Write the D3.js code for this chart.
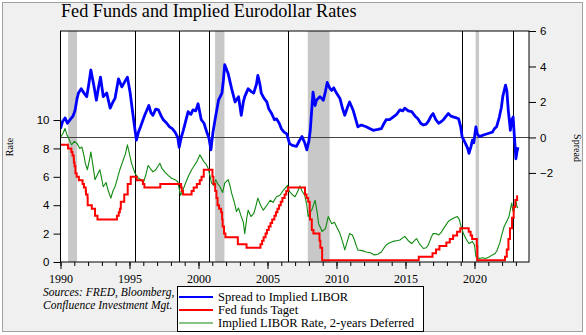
<!DOCTYPE html>
<html><head><meta charset="utf-8">
<script src="https://cdn.jsdelivr.net/npm/d3@7"></script>
<style>
html,body{margin:0;padding:0;background:#fff;}
svg{display:block;}
</style></head>
<body>
<svg id="chart" width="586" height="335"></svg>
<script>
// ---- data (decimal years) ----
const spreadYears = [1990.0,1990.15,1990.33,1990.5,1990.7,1990.9,1991.05,1991.2,1991.3,1991.5,1991.7,1991.9,1992.05,1992.2,1992.4,1992.6,1992.75,1992.9,1993.1,1993.35,1993.6,1993.8,1993.95,1994.2,1994.45,1994.7,1994.85,1995.05,1995.3,1995.5,1995.65,1995.8,1996.1,1996.4,1996.55,1996.7,1996.9,1997.1,1997.3,1997.45,1997.7,1997.9,1998.1,1998.3,1998.5,1998.6,1998.75,1998.9,1999.1,1999.25,1999.45,1999.6,1999.8,1999.97,2000.2,2000.4,2000.6,2000.75,2000.9,2001.05,2001.2,2001.45,2001.7,2001.8,2001.9,2002.05,2002.15,2002.4,2002.65,2002.9,2003.1,2003.25,2003.35,2003.6,2003.8,2004.0,2004.2,2004.3,2004.45,2004.55,2004.75,2004.95,2005.1,2005.3,2005.5,2005.65,2005.85,2006.0,2006.2,2006.4,2006.6,2006.8,2007.1,2007.3,2007.5,2007.7,2007.85,2008.0,2008.1,2008.2,2008.3,2008.45,2008.55,2008.8,2009.05,2009.2,2009.33,2009.5,2009.65,2009.8,2010.0,2010.25,2010.45,2010.6,2010.8,2010.95,2011.2,2011.4,2011.55,2011.8,2012.15,2012.4,2012.65,2013.0,2013.25,2013.45,2013.6,2013.85,2014.1,2014.35,2014.6,2014.8,2014.95,2015.2,2015.45,2015.7,2015.9,2016.1,2016.3,2016.5,2016.65,2016.85,2017.0,2017.2,2017.4,2017.6,2017.75,2017.95,2018.1,2018.3,2018.5,2018.7,2018.85,2019.0,2019.1,2019.35,2019.5,2019.6,2019.75,2019.85,2019.95,2020.1,2020.2,2020.35,2020.7,2021.1,2021.3,2021.45,2021.6,2021.8,2021.95,2022.05,2022.2,2022.25,2022.35,2022.45,2022.55,2022.6,2022.7,2022.8,2022.87,2022.95,2023.0,2023.08,2023.15];
const spreadValues = [0.5,0.9,1.1,0.8,1.0,1.2,1.5,2.2,2.5,2.75,2.5,2.3,3.0,3.8,3.0,2.1,2.8,3.4,2.3,2.5,1.65,2.0,2.2,3.3,2.85,3.2,3.4,2.5,1.0,-0.15,0.3,0.6,1.25,1.8,1.4,1.25,1.6,1.55,1.2,1.0,0.8,0.6,0.5,0.3,0.0,-0.55,0.0,0.4,1.0,1.45,1.3,1.55,1.5,1.9,1.0,0.8,0.3,0.0,-0.7,0.3,1.0,2.1,2.5,3.2,4.1,3.8,3.6,2.75,2.0,2.3,1.25,2.0,2.3,2.75,2.6,2.5,3.0,3.5,3.0,2.5,2.2,2.0,1.6,1.35,1.0,1.05,0.8,0.5,0.3,0.2,-0.35,-0.45,-0.5,-0.2,0.05,-0.3,-0.7,-0.2,0.4,1.5,2.55,1.8,2.1,2.3,2.1,2.6,3.1,2.8,2.65,2.8,2.5,2.2,1.6,1.25,1.7,2.0,1.55,1.0,0.6,0.7,0.6,0.5,0.4,0.45,0.5,0.8,1.0,1.0,1.15,1.3,1.55,1.5,1.65,1.5,1.45,1.2,1.05,0.8,0.7,0.75,0.9,1.2,1.35,1.0,0.8,0.9,1.0,1.2,1.35,1.2,1.15,1.1,1.05,0.6,0.05,-0.35,-0.6,-0.9,-0.5,-0.15,-0.3,0.6,0.2,0.05,0.15,0.25,0.3,0.5,0.6,1.15,1.7,2.3,2.8,2.95,2.6,1.5,0.8,0.4,1.0,1.15,0.3,-0.6,-1.2,-0.8,-0.55];

const liborYears = [1990.0,1990.15,1990.33,1990.45,1990.55,1990.8,1991.0,1991.2,1991.4,1991.55,1991.7,1991.8,1991.95,1992.1,1992.2,1992.35,1992.5,1992.7,1992.85,1993.1,1993.3,1993.45,1993.65,1993.8,1993.95,1994.1,1994.3,1994.55,1994.7,1994.85,1995.0,1995.15,1995.4,1995.65,1995.85,1996.0,1996.2,1996.35,1996.5,1996.7,1996.9,1997.2,1997.35,1997.55,1997.8,1998.05,1998.3,1998.5,1998.7,1998.85,1999.0,1999.25,1999.5,1999.7,1999.87,2000.1,2000.25,2000.4,2000.55,2000.7,2000.85,2000.95,2001.1,2001.25,2001.4,2001.55,2001.75,2001.9,2002.15,2002.3,2002.4,2002.6,2002.75,2002.9,2003.1,2003.25,2003.35,2003.5,2003.6,2003.8,2004.0,2004.15,2004.3,2004.5,2004.7,2004.95,2005.2,2005.4,2005.65,2005.9,2006.15,2006.45,2006.6,2006.85,2007.0,2007.2,2007.35,2007.5,2007.7,2007.85,2007.95,2008.1,2008.2,2008.45,2008.6,2008.7,2008.85,2008.95,2009.2,2009.4,2009.55,2009.65,2009.85,2010.0,2010.25,2010.45,2010.6,2010.8,2010.95,2011.15,2011.3,2011.45,2011.55,2011.85,2012.15,2012.45,2012.75,2013.0,2013.25,2013.45,2013.6,2013.85,2014.1,2014.35,2014.6,2014.8,2014.95,2015.2,2015.45,2015.65,2015.8,2016.0,2016.3,2016.5,2016.65,2016.85,2017.0,2017.2,2017.4,2017.6,2017.75,2018.0,2018.1,2018.3,2018.5,2018.75,2018.9,2019.0,2019.2,2019.4,2019.6,2019.85,2020.0,2020.1,2020.35,2020.6,2020.8,2021.05,2021.3,2021.5,2021.65,2021.85,2022.0,2022.15,2022.25,2022.4,2022.5,2022.6,2022.7,2022.78,2022.85,2022.95,2023.0,2023.08,2023.15];
const liborValues = [8.8,9.0,9.4,9.0,8.8,8.25,8.5,8.35,8.0,8.1,7.5,6.95,6.5,7.2,7.75,6.8,5.8,6.2,6.5,5.3,5.6,5.05,4.5,5.0,5.3,5.8,6.5,7.2,7.6,8.25,7.6,6.95,6.25,5.9,5.8,5.55,6.2,6.8,6.6,6.35,6.5,6.95,6.6,6.35,6.1,5.9,5.8,5.65,4.7,5.0,5.4,6.0,6.5,6.8,7.05,7.55,7.3,7.05,6.9,6.6,6.0,5.55,5.4,5.8,5.5,5.3,4.9,5.55,5.8,5.3,4.85,4.2,3.55,3.8,3.2,2.8,2.0,3.1,3.65,3.2,3.4,3.9,4.5,4.0,3.65,4.0,4.35,4.2,4.6,4.7,5.05,5.4,4.95,4.7,4.6,5.0,5.35,5.0,4.7,4.0,3.2,3.5,3.65,4.35,3.5,2.7,2.4,2.15,2.35,3.2,2.9,2.7,2.8,2.5,2.0,1.4,0.85,1.5,2.0,1.9,1.55,1.1,0.85,0.8,0.7,0.65,0.5,0.55,0.7,1.0,1.2,1.35,1.45,1.5,1.55,1.7,1.8,1.5,1.3,1.5,1.65,1.3,0.95,1.0,1.2,1.7,2.0,2.0,1.9,2.1,2.35,2.7,2.85,3.0,3.1,3.2,3.0,2.6,2.0,1.6,1.3,1.45,1.2,0.4,0.25,0.3,0.25,0.35,0.5,0.6,0.85,1.4,2.0,2.5,2.7,3.0,3.2,3.7,4.15,3.6,3.55,4.0,4.35,3.9,3.8];

const fedYears = [1990.0,1990.54,1990.79,1990.87,1990.96,1990.97,1991.02,1991.08,1991.17,1991.33,1991.6,1991.7,1991.83,1991.85,1991.96,1991.97,1992.27,1992.5,1992.68,1994.09,1994.22,1994.3,1994.37,1994.62,1994.87,1995.09,1995.52,1995.97,1996.08,1997.23,1998.74,1998.79,1998.88,1999.5,1999.65,1999.88,2000.09,2000.22,2000.38,2001.01,2001.08,2001.21,2001.3,2001.38,2001.49,2001.64,2001.71,2001.75,2001.85,2001.95,2002.85,2003.48,2004.49,2004.61,2004.72,2004.86,2004.96,2005.09,2005.22,2005.34,2005.5,2005.61,2005.72,2005.84,2005.96,2006.08,2006.24,2006.36,2006.49,2007.72,2007.83,2007.95,2008.06,2008.08,2008.21,2008.33,2008.77,2008.83,2008.96,2015.96,2016.96,2017.21,2017.46,2017.96,2018.21,2018.45,2018.74,2018.97,2019.58,2019.72,2019.83,2020.17,2020.2,2022.21,2022.34,2022.46,2022.57,2022.72,2022.84,2022.96,2023.09,2023.15];
const fedTarget = [8.25,8.0,7.75,7.5,7.25,7.0,6.75,6.25,6.0,5.75,5.5,5.25,5.0,4.75,4.5,4.0,3.75,3.25,3.0,3.25,3.5,3.75,4.25,4.75,5.5,6.0,5.75,5.5,5.25,5.5,5.25,5.0,4.75,5.0,5.25,5.5,5.75,6.0,6.5,6.0,5.5,5.0,4.5,4.0,3.75,3.5,3.0,2.5,2.0,1.75,1.25,1.0,1.25,1.5,1.75,2.0,2.25,2.5,2.75,3.0,3.25,3.5,3.75,4.0,4.25,4.5,4.75,5.0,5.25,4.75,4.5,4.25,3.5,3.0,2.25,2.0,1.5,1.0,0.125,0.375,0.625,0.875,1.125,1.375,1.625,1.875,2.125,2.375,2.125,1.875,1.625,1.125,0.125,0.375,0.875,1.625,2.375,3.125,3.875,4.375,4.625,4.625];

const recessionStarts = [1990.55, 2001.2, 2007.92, 2020.08];
const recessionEnds   = [1991.2, 2001.88, 2009.5, 2020.33];
const eventLines = [1995.4, 1998.6, 2000.76, 2006.5, 2019.07, 2022.8];

const leftTicks = [0,2,4,6,8,10];
const rightTicks = [-2,0,2,4,6];
const yearTicks = [1990,1995,2000,2005,2010,2015,2020];

const seriesNames = ["Spread to Implied LIBOR","Fed funds Taget","Implied LIBOR Rate, 2-years Deferred"];
const seriesColors = ["#0000ff","#ff0000","#108a10"];

// ---- layout ----
const svg = d3.select("#chart");
const L = 60.5, R = 529, T = 31, B = 262;

svg.append("rect").attr("x",0).attr("y",0).attr("width",586).attr("height",335).attr("fill","#ffffff");
svg.append("rect").attr("x",2.5).attr("y",2.5).attr("width",580).attr("height",329)
  .attr("fill","#f0f0f0").attr("stroke","#a0a0a0").attr("stroke-width",1);

const x = d3.scaleLinear().domain([1990, 2023.95]).range([L, R]);
const yL = d3.scaleLinear().domain([0, 16.27]).range([B, T]);
const yR = d3.scaleLinear().domain([-7.02, 6.0]).range([B, T]);

// plot background
svg.append("rect").attr("x",L).attr("y",T).attr("width",R-L).attr("height",B-T).attr("fill","#fff");

// recession bars
svg.append("g").selectAll("rect").data(recessionStarts).join("rect")
  .attr("x",(d)=>x(d)).attr("y",T)
  .attr("width",(d,i)=>x(recessionEnds[i])-x(d)).attr("height",B-T)
  .attr("fill","#c8c8c8");

// event lines
svg.append("g").selectAll("line").data(eventLines).join("line")
  .attr("x1",d=>Math.round(x(d))+0.5).attr("x2",d=>Math.round(x(d))+0.5)
  .attr("y1",T).attr("y2",B).attr("stroke","#000").attr("stroke-width",1);

// zero line of right axis
svg.append("line").attr("x1",L).attr("x2",R)
  .attr("y1",Math.round(yR(0))+0.5).attr("y2",Math.round(yR(0))+0.5)
  .attr("stroke","#444").attr("stroke-width",1);

svg.append("clipPath").attr("id","clip").append("rect")
  .attr("x",L).attr("y",T).attr("width",R-L).attr("height",B-T);

const gLines = svg.append("g").attr("clip-path","url(#clip)");

const greenLine = d3.line().x((d,i)=>x(liborYears[i])).y(d=>yL(d));
gLines.append("path").datum(liborValues).attr("d",greenLine)
  .attr("fill","none").attr("stroke",seriesColors[2]).attr("stroke-width",1.1).attr("stroke-linejoin","round");

const redLine = d3.line().x((d,i)=>x(fedYears[i])).y(d=>yL(d)).curve(d3.curveStepAfter);
gLines.append("path").datum(fedTarget).attr("d",redLine)
  .attr("fill","none").attr("stroke",seriesColors[1]).attr("stroke-width",2);

const blueLine = d3.line().x((d,i)=>x(spreadYears[i])).y(d=>yR(d));
gLines.append("path").datum(spreadValues).attr("d",blueLine)
  .attr("fill","none").attr("stroke",seriesColors[0]).attr("stroke-width",2.8).attr("stroke-linejoin","round");

// frame
svg.append("rect").attr("x",L).attr("y",T).attr("width",R-L).attr("height",B-T)
  .attr("fill","none").attr("stroke","#000").attr("stroke-width",1);

// axes
const sansFont = "'Liberation Sans', Arial, sans-serif";
const serifFont = "'Liberation Serif', 'Times New Roman', serif";

const leftAxis = d3.axisLeft(yL).tickValues(leftTicks).tickSize(7).tickPadding(4).tickFormat(d3.format("d"));
const gl = svg.append("g").attr("transform",`translate(${L},0)`).call(leftAxis);
const rightAxis = d3.axisRight(yR).tickValues(rightTicks).tickSize(7).tickPadding(4).tickFormat(d3.format("d"));
const gr = svg.append("g").attr("transform",`translate(${R},0)`).call(rightAxis);
[gl,gr].forEach(g=>{
  g.select(".domain").remove();
  g.selectAll("text").attr("font-family",sansFont).attr("font-size",11.5).attr("fill","#000");
  g.selectAll("line").attr("stroke","#000");
});

const minorYears = d3.range(1990, 2024);
const bottomMinor = d3.axisBottom(x).tickValues(minorYears).tickSize(4).tickFormat("");
const gbm = svg.append("g").attr("transform",`translate(0,${B})`).call(bottomMinor);
gbm.select(".domain").remove();
gbm.selectAll("line").attr("stroke","#000");
const bottomMajor = d3.axisBottom(x).tickValues(yearTicks).tickSize(7).tickPadding(5).tickFormat(d3.format("d"));
const gbx = svg.append("g").attr("transform",`translate(0,${B})`).call(bottomMajor);
gbx.select(".domain").remove();
gbx.selectAll("line").attr("stroke","#000");
gbx.selectAll("text").attr("font-family",serifFont).attr("font-size",12).attr("fill","#000");

// title
svg.append("text").attr("x",61).attr("y",17).attr("font-family",serifFont)
  .attr("font-size",18.2).attr("fill","#000").text("Fed Funds and Implied Eurodollar Rates");

// axis titles
svg.append("text").attr("transform","translate(13,147) rotate(-90)").attr("text-anchor","middle")
  .attr("font-family",serifFont).attr("font-size",10).text("Rate");
svg.append("text").attr("transform","translate(574,148) rotate(90)").attr("text-anchor","middle")
  .attr("font-family",serifFont).attr("font-size",10).text("Spread");

// sources
svg.append("text").attr("x",43).attr("y",295.5).attr("font-family",serifFont).attr("font-style","italic")
  .attr("font-size",11.5).text("Sources:  FRED, Bloomberg,");
svg.append("text").attr("x",43).attr("y",308.5).attr("font-family",serifFont).attr("font-style","italic")
  .attr("font-size",11.5).text("Confluence Investment Mgt.");

// legend
const lg = svg.append("g");
lg.append("rect").attr("x",177.5).attr("y",286.5).attr("width",246).attr("height",45)
  .attr("fill","#fff").attr("stroke","#000").attr("stroke-width",1);
const lgItems = lg.selectAll("g").data(seriesNames).join("g")
  .attr("transform",(d,i)=>`translate(0,${297+i*13})`);
lgItems.append("line").attr("x1",179).attr("x2",213).attr("y1",0).attr("y2",0)
  .attr("stroke",(d,i)=>seriesColors[i]).attr("stroke-width",(d,i)=>i===2?1.2:1.8);
lgItems.append("text").attr("x",218).attr("y",4).attr("font-family",serifFont).attr("font-size",12.5)
  .attr("fill","#000").text(d=>d);
</script>
</body></html>
